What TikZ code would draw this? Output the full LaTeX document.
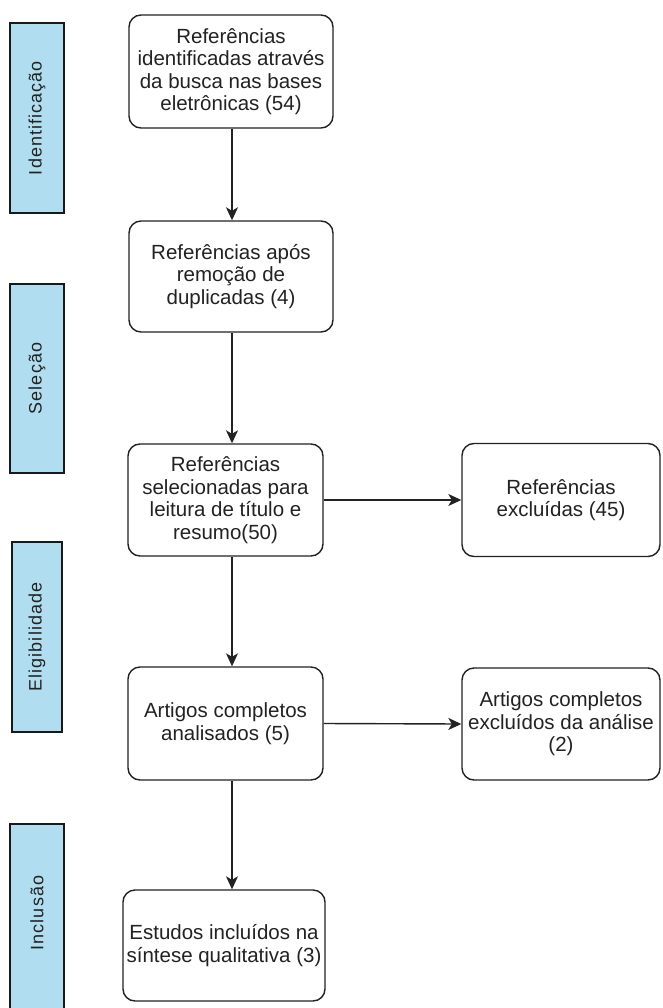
\documentclass[tikz,border=0pt]{standalone}
\usepackage{fontspec}
\setmainfont{Liberation Sans}
\newfontfamily\barfont[LetterSpace=6]{Liberation Sans}
\usetikzlibrary{arrows.meta}
\definecolor{barblue}{HTML}{B1DDF0}
\definecolor{ink}{HTML}{222222}
\tikzset{
  x=1pt, y=-1pt,
  box/.style={draw=ink, line width=1.4pt, rounded corners=12pt, fill=white,
    align=center, inner sep=0pt, text=ink,
    font=\fontsize{20.5}{22.5}\selectfont},
  phase/.style={draw=black!90, line width=2.8pt, fill=barblue, inner sep=0pt},
  phasetext/.style={rotate=90, text=ink, font=\barfont\fontsize{18}{20}\selectfont},
  flow/.style={draw=ink, line width=1.4pt,
    -{Stealth[length=13pt,width=12pt,inset=3.5pt]}},
}
\begin{document}
\begin{tikzpicture}
\useasboundingbox (0,0) rectangle (662,1008);
% phase bars
\node[phase, minimum width=54pt, minimum height=190pt] (p1) at (37,118) {};
\node[phasetext] (t1) at (p1.center) {Identificação};
\node[phase, minimum width=54pt, minimum height=189pt] (p2) at (37,378.5) {};
\node[phasetext] (t2) at (p2.center) {Seleção};
\node[phase, minimum width=50pt, minimum height=190pt] (p3) at (37,637) {};
\node[phasetext] (t3) at (p3.center) {Eligibilidade};
\node[phase, minimum width=54pt, minimum height=200pt] (p4) at (37,924) {};
\node[phasetext] (t4) at (37,913) {Inclusão};
% main boxes
\node[box, minimum width=204pt, minimum height=113pt] (b1) at (231,71.5)
  {Referências\\identificadas através\\da busca nas bases\\eletrônicas (54)};
\node[box, minimum width=204pt, minimum height=111pt] (b2) at (231,276.5)
  {Referências após\\remoção de\\duplicadas (4)};
\node[box, minimum width=195pt, minimum height=112pt] (b3) at (225.5,500)
  {Referências\\selecionadas para\\leitura de título e\\resumo(50)};
\node[box, minimum width=195pt, minimum height=113pt] (b4) at (225.5,723.5)
  {Artigos completos\\analisados (5)};
\node[box, minimum width=202pt, minimum height=111pt] (b5) at (224,945.5)
  {Estudos incluídos na\\síntese qualitativa (3)};
\node[box, minimum width=198pt, minimum height=113pt] (r1) at (561,500)
  {Referências\\excluídas (45)};
\node[box, minimum width=198pt, minimum height=112pt] (r2) at (561,724)
  {Artigos completos\\excluídos da análise\\(2)};
% connectors
\coordinate (col) at (232,0);
\draw[flow] (b1.south -| col) -- (b2.north -| col);
\draw[flow] (b2.south -| col) -- (b3.north -| col);
\draw[flow] (b3.south -| col) -- (b4.north -| col);
\draw[flow] (b4.south -| col) -- (b5.north -| col);
\draw[flow] (b3.east) -- (r1.west);
\draw[flow] (b4.east) -- (r2.west);
\end{tikzpicture}
\end{document}
